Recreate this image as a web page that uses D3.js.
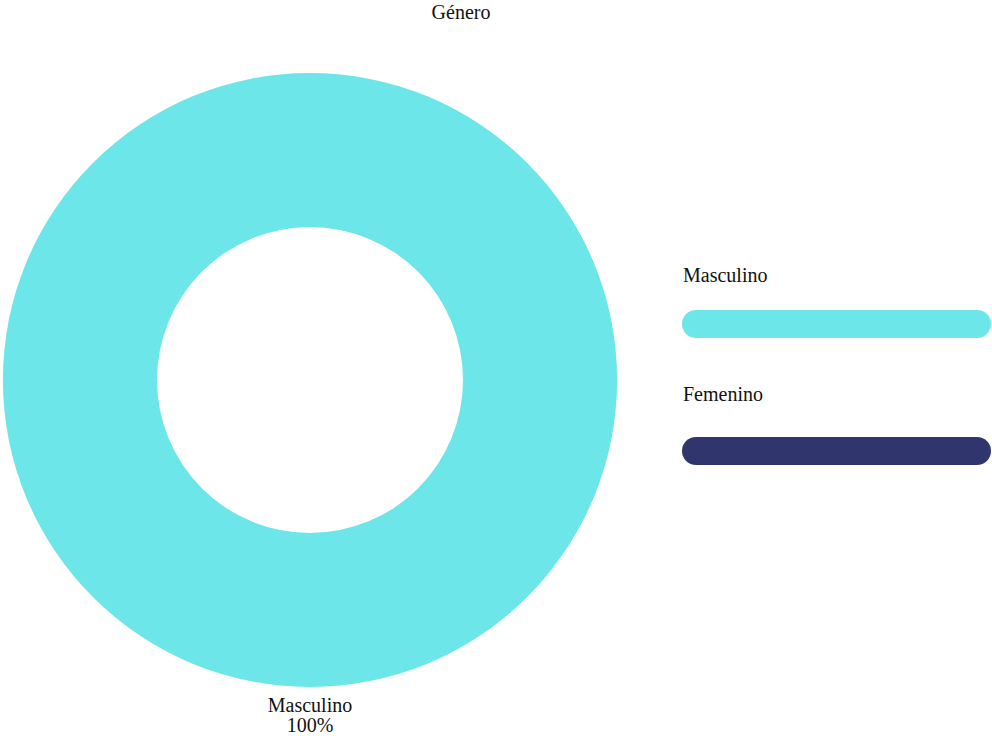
<!DOCTYPE html>
<html>
<head>
<meta charset="utf-8">
<script src="https://cdn.jsdelivr.net/npm/d3@7"></script>
<style>
  html, body { margin: 0; padding: 0; background: #ffffff; }
  svg { display: block; }
</style>
</head>
<body>
<svg id="chart" width="992" height="736"></svg>
<script>
const title = "Género";
const categories = ["Masculino", "Femenino"];
const values = [100, 0];
const colors = ["#6ce6e8", "#31356e"];

const FONT = "'Liberation Serif', 'DejaVu Serif', 'Times New Roman', serif";
const svg = d3.select("#chart");
const cx = 310, cy = 380, outerR = 307, innerR = 153;

svg.append("text")
  .attr("x", 461).attr("y", 19)
  .attr("text-anchor", "middle")
  .attr("font-family", FONT)
  .attr("font-size", 20)
  .attr("fill", "#111")
  .text(title);

const data = categories.map((c, i) => ({ name: c, value: values[i], color: colors[i] }));
const total = d3.sum(values);
const pie = d3.pie().value(d => d.value).sort(null);
const arc = d3.arc().innerRadius(innerR).outerRadius(outerR);
const arcs = pie(data);

const g = svg.append("g").attr("transform", `translate(${cx},${cy})`);
g.selectAll("path.slice")
  .data(arcs.filter(a => a.data.value > 0))
  .join("path")
  .attr("class", "slice")
  .attr("d", arc)
  .attr("fill", d => d.data.color);

arcs.filter(a => a.data.value > 0).forEach(a => {
  const mid = (a.startAngle + a.endAngle) / 2;
  const r = outerR + 18;
  const x = Math.sin(mid) * r;
  const y = -Math.cos(mid) * r;
  const t = g.append("text")
    .attr("text-anchor", "middle")
    .attr("font-family", FONT)
    .attr("font-size", 20)
    .attr("fill", "#111");
  t.append("tspan").attr("x", x).attr("y", y + 7).text(a.data.name);
  t.append("tspan").attr("x", x).attr("y", y + 27)
    .text(d3.format(".0f")(a.data.value / total * 100) + "%");
});

// Legend
const legendX = 682, legendW = 309, barH = 28;
const textY = d3.scalePoint().domain(categories).range([282, 401]);
const barY = d3.scalePoint().domain(categories).range([310, 437]);
const lg = svg.append("g");
categories.forEach((c, i) => {
  lg.append("text")
    .attr("x", legendX + 1).attr("y", textY(c))
    .attr("font-family", FONT)
    .attr("font-size", 20)
    .attr("fill", "#111")
    .text(c);
  lg.append("rect")
    .attr("x", legendX).attr("y", barY(c))
    .attr("width", legendW).attr("height", barH)
    .attr("rx", 14).attr("ry", 14)
    .attr("fill", colors[i]);
});
</script>
</body>
</html>
